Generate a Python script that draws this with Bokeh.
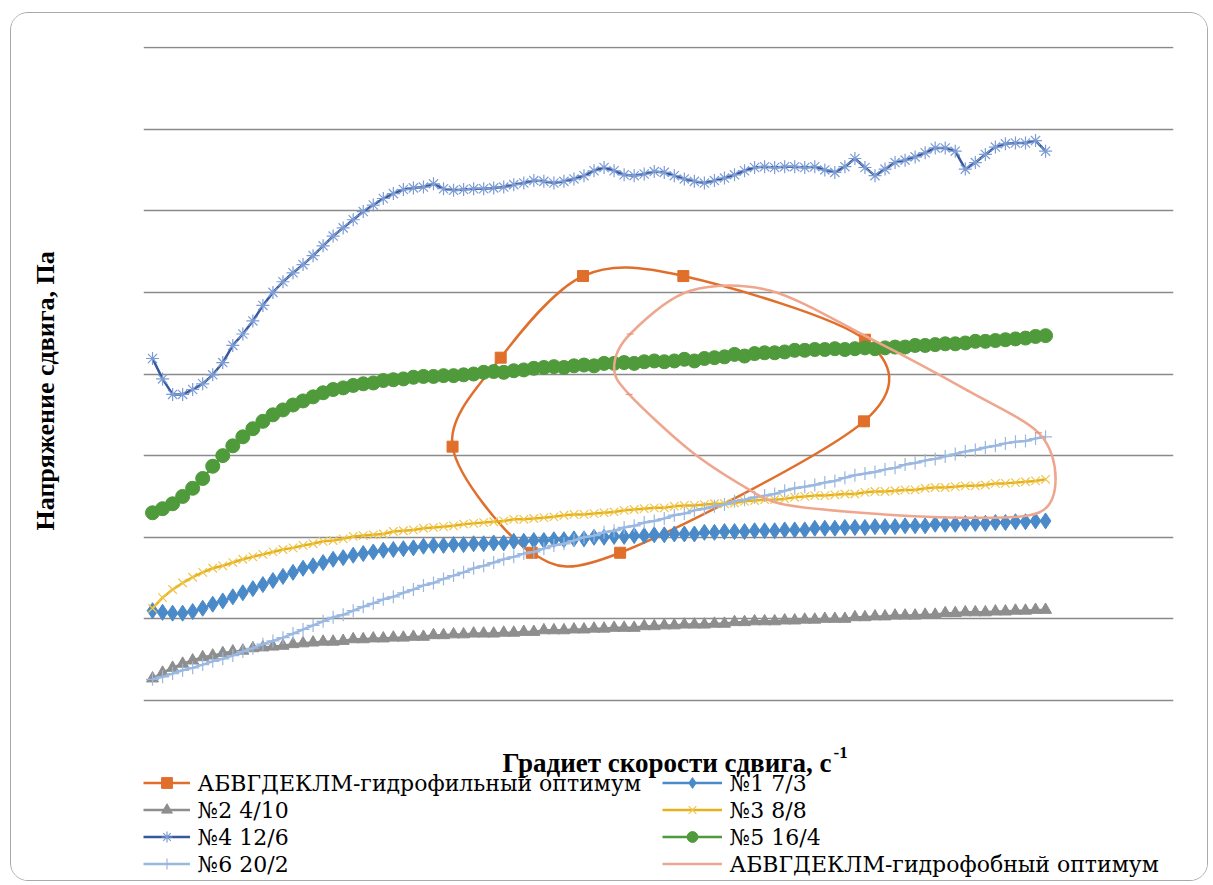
from bokeh.plotting import figure
from bokeh.models import (Range1d, Grid, FixedTicker, Legend, LegendItem, Label,
                          ColumnDataSource, LinearAxis, Title)
from bokeh.embed import file_html
from bokeh.resources import INLINE

# ---------------- data (shear stress, arbitrary Pa scale; x = point index) ----------------
y_ticks = [0, 10, 20, 30, 40, 50, 60, 70, 80]

labels = ["АБВГДЕКЛМ-гидрофильный оптимум", "№1 7/3", "№2 4/10", "№3 8/8",
          "№4 12/6", "№5 16/4", "№6 20/2", "АБВГДЕКЛМ-гидрофобный оптимум"]

hydrophilic_x = [34.7, 42.9, 52.9, 71.0, 70.9, 46.6, 37.8, 29.9]
hydrophilic_y = [42.0, 52.0, 52.0, 44.2, 34.2, 18.1, 18.1, 31.1]

n1 = [11.0, 10.8, 10.7, 10.7, 10.9, 11.3, 11.8, 12.2, 12.7, 13.2,
      13.7, 14.2, 14.7, 15.2, 15.7, 16.2, 16.5, 16.9, 17.3, 17.5,
      17.8, 18.0, 18.2, 18.4, 18.5, 18.6, 18.7, 18.9, 19.0, 19.0,
      19.1, 19.1, 19.2, 19.2, 19.3, 19.3, 19.5, 19.5, 19.6, 19.6,
      19.7, 19.7, 19.8, 19.8, 20.0, 20.0, 20.1, 20.1, 20.2, 20.2,
      20.3, 20.3, 20.4, 20.4, 20.4, 20.6, 20.6, 20.7, 20.7, 20.7,
      20.8, 20.8, 20.8, 20.9, 20.9, 20.9, 21.1, 21.1, 21.1, 21.2,
      21.2, 21.2, 21.3, 21.3, 21.3, 21.4, 21.4, 21.4, 21.6, 21.6,
      21.6, 21.7, 21.7, 21.7, 21.8, 21.8, 21.9, 21.9, 22.0, 22.0]

n2 = [2.7, 3.4, 4.0, 4.5, 4.9, 5.3, 5.5, 5.8, 6.0, 6.1,
      6.4, 6.5, 6.6, 6.7, 6.9, 7.0, 7.1, 7.2, 7.2, 7.3,
      7.5, 7.5, 7.6, 7.6, 7.7, 7.7, 7.8, 7.8, 8.0, 8.0,
      8.1, 8.1, 8.2, 8.2, 8.2, 8.3, 8.3, 8.4, 8.4, 8.6,
      8.6, 8.6, 8.7, 8.7, 8.8, 8.8, 8.9, 8.9, 8.9, 9.1,
      9.1, 9.2, 9.2, 9.3, 9.3, 9.3, 9.4, 9.4, 9.6, 9.6,
      9.7, 9.7, 9.7, 9.8, 9.8, 9.9, 9.9, 10.0, 10.0, 10.0,
      10.2, 10.2, 10.3, 10.3, 10.4, 10.4, 10.4, 10.5, 10.5, 10.7,
      10.7, 10.8, 10.8, 10.8, 10.9, 10.9, 11.0, 11.0, 11.1, 11.1]

n3 = [11.3, 12.6, 13.6, 14.4, 15.1, 15.7, 16.2, 16.5, 16.9, 17.3,
      17.6, 17.9, 18.2, 18.5, 18.7, 19.0, 19.2, 19.5, 19.6, 19.8,
      20.1, 20.2, 20.3, 20.4, 20.7, 20.8, 20.9, 21.1, 21.2, 21.3,
      21.4, 21.6, 21.7, 21.8, 21.9, 22.0, 22.2, 22.2, 22.3, 22.4,
      22.5, 22.7, 22.8, 22.8, 22.9, 23.0, 23.1, 23.3, 23.4, 23.5,
      23.6, 23.6, 23.8, 23.9, 23.9, 24.0, 24.1, 24.1, 24.2, 24.4,
      24.5, 24.6, 24.6, 24.7, 24.9, 25.0, 25.1, 25.1, 25.2, 25.3,
      25.3, 25.5, 25.6, 25.6, 25.7, 25.8, 25.8, 26.0, 26.1, 26.1,
      26.2, 26.3, 26.3, 26.4, 26.6, 26.6, 26.7, 26.8, 26.9, 27.1]

n4 = [41.9, 39.4, 37.5, 37.5, 38.1, 38.8, 39.9, 41.4, 43.5, 44.9,
      46.5, 48.4, 50.0, 51.3, 52.4, 53.4, 54.5, 55.7, 56.9, 57.9,
      58.9, 59.9, 60.7, 61.5, 62.1, 62.6, 62.8, 62.9, 63.3, 62.7,
      62.5, 62.6, 62.7, 62.7, 62.8, 62.9, 63.2, 63.4, 63.7, 63.6,
      63.4, 63.6, 63.9, 64.3, 64.9, 65.3, 64.9, 64.4, 64.3, 64.5,
      64.8, 64.7, 64.3, 63.9, 63.6, 63.4, 63.7, 64.0, 64.4, 64.9,
      65.3, 65.4, 65.3, 65.4, 65.4, 65.3, 65.4, 65.0, 64.7, 65.4,
      66.4, 65.3, 64.3, 65.1, 65.9, 66.2, 66.6, 67.1, 67.7, 67.7,
      67.3, 65.1, 65.9, 66.9, 67.8, 68.2, 68.3, 68.3, 68.6, 67.3]

n5 = [23.0, 23.5, 24.1, 25.0, 26.0, 27.2, 28.7, 30.0, 31.2, 32.3,
      33.3, 34.2, 35.0, 35.6, 36.2, 36.7, 37.2, 37.7, 38.1, 38.3,
      38.6, 38.8, 38.9, 39.2, 39.3, 39.4, 39.6, 39.7, 39.7, 39.8,
      39.8, 39.9, 40.0, 40.2, 40.3, 40.2, 40.4, 40.5, 40.7, 40.8,
      40.9, 40.8, 41.0, 41.1, 41.0, 41.3, 41.3, 41.4, 41.3, 41.5,
      41.6, 41.5, 41.6, 41.8, 41.6, 41.9, 42.0, 42.1, 42.4, 42.2,
      42.5, 42.6, 42.6, 42.7, 42.9, 42.9, 43.0, 43.0, 43.1, 43.0,
      43.1, 43.2, 43.1, 43.2, 43.3, 43.3, 43.5, 43.5, 43.6, 43.7,
      43.7, 43.8, 44.0, 44.0, 44.1, 44.2, 44.3, 44.4, 44.6, 44.7]

n6 = [2.6, 2.9, 3.3, 3.7, 4.0, 4.4, 4.8, 5.1, 5.5, 6.0,
      6.4, 6.9, 7.3, 7.7, 8.2, 8.7, 9.2, 9.7, 10.2, 10.5,
      11.0, 11.5, 11.9, 12.4, 12.7, 13.2, 13.6, 14.1, 14.4, 14.9,
      15.3, 15.7, 16.2, 16.5, 16.9, 17.3, 17.6, 18.0, 18.2, 18.6,
      19.0, 19.2, 19.6, 20.0, 20.2, 20.6, 20.8, 21.2, 21.4, 21.8,
      22.0, 22.3, 22.7, 22.9, 23.3, 23.5, 23.8, 24.0, 24.4, 24.6,
      24.9, 25.1, 25.3, 25.7, 26.0, 26.2, 26.4, 26.7, 26.9, 27.3,
      27.6, 27.8, 28.0, 28.3, 28.5, 28.9, 29.1, 29.4, 29.6, 29.9,
      30.2, 30.5, 30.7, 31.0, 31.2, 31.5, 31.7, 31.8, 32.1, 32.3]

hydrophobic_x = [47.5, 46.0, 47.6, 53.6, 61.6, 71.6, 81.2, 88.3, 90.0, 88.3, 80.5, 69.6, 62.6, 59.1, 53.6]
hydrophobic_y = [37.5, 40.8, 44.9, 50.2, 50.2, 44.3, 38.0, 32.8, 27.2, 23.0, 22.4, 23.1, 24.1, 26.1, 30.6]
hydrophobic_marked = [0, 2, 7]

# ---------------- styles ----------------
C_ORANGE = "#E06F2C"
C_BLUE = "#4A8AC9"
C_GRAY = "#8E8E8E"
C_GOLD = "#E5B21A"
C_GOLD_M = "#F0C54E"
C_DBLUE = "#35599F"
C_DBLUE_M = "#7D9CD4"
C_GREEN = "#4F9A3A"
C_LBLUE = "#9AB8E0"
C_PINK = "#EFA68E"
SERIF_BOLD = "Liberation Serif"
SERIF_REG = "DejaVu Serif"

PX_PER_UNIT = 653.0 / 80.0
Y_BOTTOM = -(882 - 700) / PX_PER_UNIT   # frame extends under the grid to hold title + legend
Y_TOP = 80 + 1.0 / PX_PER_UNIT


def closed_bezier(xs, ys, k=0.155):
    n = len(xs)
    d = dict(x0=[], y0=[], x1=[], y1=[], cx0=[], cy0=[], cx1=[], cy1=[])
    for i in range(n):
        h, j, m = (i - 1) % n, (i + 1) % n, (i + 2) % n
        d["x0"].append(xs[i]); d["y0"].append(ys[i])
        d["x1"].append(xs[j]); d["y1"].append(ys[j])
        d["cx0"].append(xs[i] + (xs[j] - xs[h]) * k)
        d["cy0"].append(ys[i] + (ys[j] - ys[h]) * k)
        d["cx1"].append(xs[j] - (xs[m] - xs[i]) * k)
        d["cy1"].append(ys[j] - (ys[m] - ys[i]) * k)
    return ColumnDataSource(d)


p = figure(width=1198, height=869, x_range=Range1d(-0.9, 101.75), y_range=Range1d(Y_BOTTOM, Y_TOP),
           x_axis_location=None, y_axis_location=None, toolbar_location=None,
           output_backend="svg", min_border_left=132, min_border_right=36,
           min_border_top=33, min_border_bottom=0)
p.outline_line_color = None
p.background_fill_color = "white"
p.border_fill_color = "white"
p.styles = {"border": "1px solid #a9a9a9", "border-radius": "18px", "overflow": "hidden",
            "margin": "12px 0 0 10px"}
for g in p.grid:
    g.visible = False

p.add_layout(Grid(dimension=1, ticker=FixedTicker(ticks=y_ticks),
                  grid_line_color="#8a8a8a", grid_line_width=1.3))

# left side: an empty spacer axis next to the frame, then the rotated y title outside it
spacer = LinearAxis(ticker=FixedTicker(ticks=[]), axis_line_color=None,
                    major_tick_line_color=None, minor_tick_line_color=None,
                    major_tick_out=0, major_tick_in=0, major_label_standoff=0,
                    major_label_text_font_size="1px",
                    axis_label=" ", axis_label_standoff=79, axis_label_text_font_size="1px")
p.add_layout(spacer, "left")
p.add_layout(Title(text="Напряжение сдвига, Па", align="left", offset=352,
                   vertical_align="middle", standoff=0,
                   text_font=SERIF_BOLD, text_font_size="26px", text_font_style="bold",
                   text_color="black"), "left")

items = {}

# hydrophilic optimum (closed smooth loop with squares)
src = closed_bezier(hydrophilic_x, hydrophilic_y)
p.bezier(x0="x0", y0="y0", x1="x1", y1="y1", cx0="cx0", cy0="cy0", cx1="cx1", cy1="cy1",
         source=src, line_color=C_ORANGE, line_width=2.5, line_cap="round")
r_leg = p.line(hydrophilic_x[:1], hydrophilic_y[:1], line_color=C_ORANGE, line_width=2.5)
r_m = p.scatter(hydrophilic_x, hydrophilic_y, marker="square", size=11,
                fill_color=C_ORANGE, line_color=C_ORANGE)
items[labels[0]] = [r_leg, r_m]

series = [
    (labels[1], n1, C_BLUE, "diamond", 16, C_BLUE, C_BLUE, 1),
    (labels[2], n2, C_GRAY, "triangle", 12, C_GRAY, C_GRAY, 1),
    (labels[3], n3, C_GOLD, "x", 12, None, C_GOLD_M, 1.2),
    (labels[4], n4, C_DBLUE, "asterisk", 13, None, C_DBLUE_M, 1.2),
    (labels[5], n5, C_GREEN, "circle", 14, C_GREEN, C_GREEN, 1),
    (labels[6], n6, C_LBLUE, "cross", 13, None, C_LBLUE, 1.2),
]
for name, ys, col, mk, sz, fc, lc, lw in series:
    xs = list(range(len(ys)))
    rl = p.line(xs, ys, line_color=col, line_width=2.5)
    rs = p.scatter(xs, ys, marker=mk, size=sz, fill_color=fc, line_color=lc, line_width=lw)
    items[name] = [rl, rs]

# hydrophobic optimum (closed smooth loop)
src2 = closed_bezier(hydrophobic_x, hydrophobic_y)
p.bezier(x0="x0", y0="y0", x1="x1", y1="y1", cx0="cx0", cy0="cy0", cx1="cx1", cy1="cy1",
         source=src2, line_color=C_PINK, line_width=2.5, line_cap="round")
r_leg2 = p.line(hydrophobic_x[:1], hydrophobic_y[:1], line_color=C_PINK, line_width=2.5)
p.scatter([hydrophobic_x[i] for i in hydrophobic_marked], [hydrophobic_y[i] for i in hydrophobic_marked],
          marker="dash", size=7, line_color="#E8907A", line_width=1)
items[labels[7]] = [r_leg2]

# ---------------- legend: Bokeh legend draws the swatches, serif labels set beside them ----------------
ROW_H = 27
LEG_BOTTOM = 5                         # px above the bottom of the (extended) frame
COL_X = [0, 519]                       # swatch start of each column, px from frame left
GLYPH_W = [47, 60]
TEXT_X = [54, 586]                     # label start of each column, px from frame left
columns = [[labels[0], labels[2], labels[4], labels[6]],
           [labels[1], labels[3], labels[5], labels[7]]]

for c, names in enumerate(columns):
    lg = Legend(items=[LegendItem(label=" ", renderers=items[n]) for n in names],
                location=(COL_X[c], LEG_BOTTOM), orientation="vertical",
                glyph_width=GLYPH_W[c], glyph_height=ROW_H, label_height=ROW_H, spacing=0,
                label_standoff=0, label_width=0, padding=0, margin=0,
                label_text_font_size="8px",
                border_line_color=None, background_fill_alpha=0)
    p.add_layout(lg)
    for r, n in enumerate(names):
        p.add_layout(Label(x=TEXT_X[c], y=LEG_BOTTOM + (len(names) - r - 0.5) * ROW_H,
                           x_units="screen", y_units="screen", text=n,
                           text_font=SERIF_REG, text_font_size="22px", text_font_style="normal",
                           text_align="left", text_baseline="middle", text_color="black"))

# ---------------- x title (inside the extended frame, under the grid) ----------------
p.add_layout(Label(x=688, y=120, x_units="screen", y_units="screen",
                   text="Градиет скорости сдвига, с", text_font=SERIF_BOLD, text_font_size="27px",
                   text_font_style="bold", text_align="right", text_baseline="middle",
                   text_color="black"))
p.add_layout(Label(x=690, y=130, x_units="screen", y_units="screen",
                   text="-1", text_font=SERIF_BOLD, text_font_size="17px",
                   text_font_style="bold", text_align="left", text_baseline="middle",
                   text_color="black"))

open("out.html", "w").write(file_html(p, INLINE))
